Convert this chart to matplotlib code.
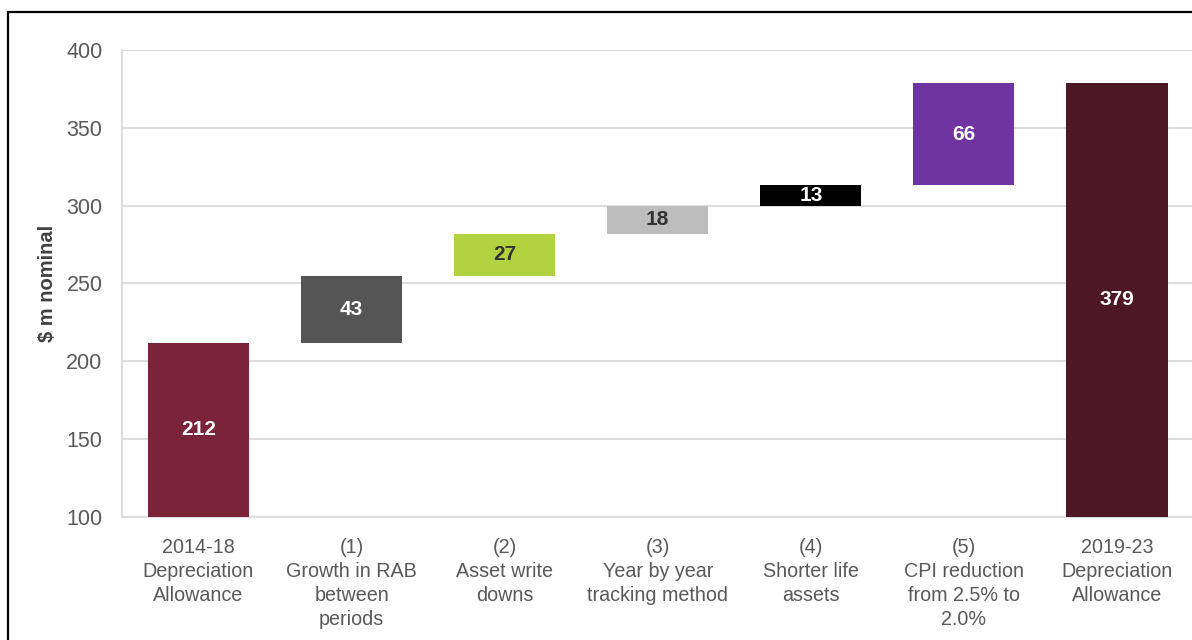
import matplotlib.pyplot as plt
import matplotlib.patches as mpatches
import numpy as np

plt.rcParams["font.family"] = ["Liberation Sans", "DejaVu Sans"]

# ── data ────────────────────────────────────────────────────────────────────
categories = [
    "2014-18\nDepreciation\nAllowance",
    "(1)\nGrowth in RAB\nbetween\nperiods",
    "(2)\nAsset write\ndowns",
    "(3)\nYear by year\ntracking method",
    "(4)\nShorter life\nassets",
    "(5)\nCPI reduction\nfrom 2.5% to\n2.0%",
    "2019-23\nDepreciation\nAllowance",
]
values = [212, 43, 27, 18, 13, 66, 379]
is_total = [True, False, False, False, False, False, True]
colors = ["#7B2339", "#555555", "#B3D23F", "#BDBDBD", "#000000", "#7034A0", "#4D1824"]
label_colors = ["white", "white", "#333333", "#333333", "white", "white", "white"]

# ── waterfall bottoms ───────────────────────────────────────────────────────
Y_MIN, Y_MAX = 100, 400
bottoms = []
running = 0
for v, tot in zip(values, is_total):
    if tot:
        bottoms.append(Y_MIN)
        running = v
    else:
        bottoms.append(running)
        running += v
heights = [v - Y_MIN if tot else v for v, tot in zip(values, is_total)]

# ── plot ────────────────────────────────────────────────────────────────────
fig = plt.figure(figsize=(11.92, 6.4), dpi=100)
ax = fig.add_axes([0.1023, 0.1922, 0.899, 0.7297])

x = np.arange(len(categories))
bars = ax.bar(x, heights, 0.66, bottom=bottoms, color=colors, zorder=3)

for bar, val, lc in zip(bars, values, label_colors):
    ax.text(bar.get_x() + bar.get_width() / 2,
            bar.get_y() + bar.get_height() / 2,
            f"{val}", ha="center", va="center",
            fontsize=15, fontweight="bold", color=lc, zorder=4)

ax.set_xlim(-0.5, 6.5)
ax.set_ylim(Y_MIN, Y_MAX)
ax.set_yticks(np.arange(100, 401, 50))
ax.set_xticks(x)
ax.set_xticklabels(categories, fontsize=14.2, color="#595959", linespacing=1.34)
ax.tick_params(axis="y", labelsize=15.5, labelcolor="#595959", length=0, pad=14)
ax.tick_params(axis="x", length=0, pad=15)
ax.grid(axis="y", color="#DDDDDD", linewidth=1.5, zorder=0)
ax.set_ylabel("$ m nominal", fontsize=14.5, fontweight="bold", color="#404040", labelpad=7)

for side in ["top", "right"]:
    ax.spines[side].set_visible(False)
for side in ["left", "bottom"]:
    ax.spines[side].set_color("#DDDDDD")
    ax.spines[side].set_linewidth(1.5)

# outer frame (runs off the right and bottom of the image)
frame = mpatches.Rectangle((8 / 1192, -0.1), 1.2, 0.1 + 1 - 12 / 640,
                           transform=fig.transFigure, fill=False,
                           edgecolor="black", linewidth=1.6)
fig.patches.append(frame)

fig.savefig("out.png", dpi=100)
